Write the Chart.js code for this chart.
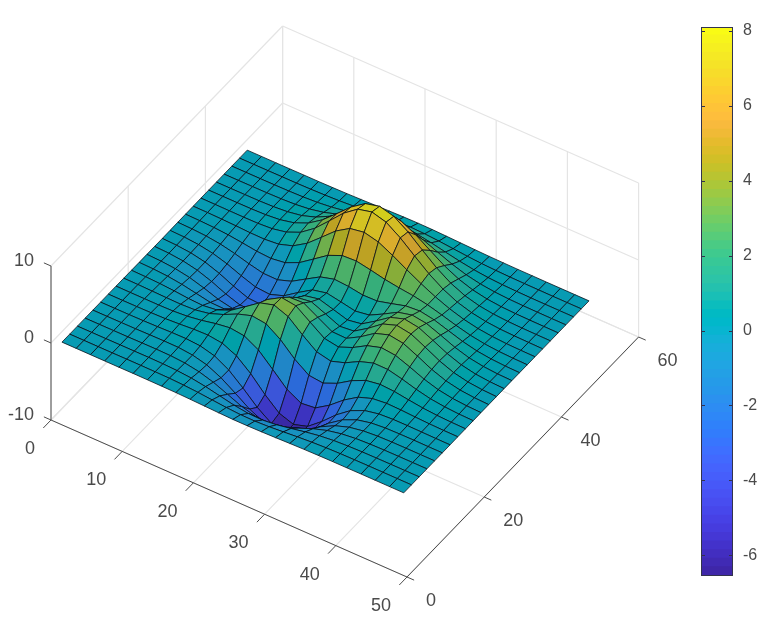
<!DOCTYPE html>
<html>
<head>
<meta charset="utf-8">
<title>peaks surface</title>
<script src="https://cdn.jsdelivr.net/npm/chart.js@4/dist/chart.umd.min.js"></script>
<style>
  html, body { margin: 0; padding: 0; background: #fff; }
  #wrap { position: relative; width: 762px; height: 620px; overflow: hidden; }
  canvas { position: absolute; top: 0; }
  #surface { left: 0; }
  #colorbar { left: 690px; }
</style>
</head>
<body>
<div id="wrap">
  <canvas id="surface" width="762" height="620"></canvas>
  <canvas id="colorbar" width="72" height="620"></canvas>
</div>
<script>
// grid positions of the mesh, along both floor axes
const gridX = [1, 3, 5, 7, 9, 11, 13, 15, 17, 19, 21, 23, 25, 27, 29, 31, 33, 35, 37, 39, 41, 43, 45, 47, 49];
const gridY = [1, 3, 5, 7, 9, 11, 13, 15, 17, 19, 21, 23, 25, 27, 29, 31, 33, 35, 37, 39, 41, 43, 45, 47, 49];

// surface height, one row per gridY value
const surfaceZ = [
  [0, 0, 0, 0, 0, 0.01, 0, -0.01, -0.03, -0.08, -0.14, -0.2, -0.25, -0.25, -0.22, -0.17, -0.11, -0.06, -0.03, -0.01, -0.01, 0, 0, 0, 0],
  [0, 0, 0, 0, 0.01, 0.01, 0, -0.02, -0.1, -0.22, -0.39, -0.56, -0.68, -0.7, -0.61, -0.46, -0.3, -0.17, -0.08, -0.03, -0.01, 0, 0, 0, 0],
  [0, 0, 0, 0.01, 0.01, 0.02, 0, -0.07, -0.23, -0.52, -0.91, -1.3, -1.56, -1.6, -1.4, -1.06, -0.69, -0.38, -0.18, -0.08, -0.03, -0.01, 0, 0, 0],
  [0, 0, 0.01, 0.01, 0.03, 0.04, 0.01, -0.12, -0.44, -0.99, -1.74, -2.51, -3.02, -3.1, -2.72, -2.05, -1.32, -0.73, -0.35, -0.14, -0.05, -0.01, 0, 0, 0],
  [0, 0, 0.01, 0.02, 0.05, 0.07, 0.05, -0.13, -0.59, -1.45, -2.64, -3.88, -4.76, -4.93, -4.35, -3.27, -2.1, -1.15, -0.53, -0.2, -0.06, -0.01, 0, 0, 0],
  [0, 0, 0.01, 0.03, 0.07, 0.13, 0.15, 0.02, -0.46, -1.48, -3.01, -4.7, -5.98, -6.33, -5.64, -4.24, -2.69, -1.42, -0.61, -0.2, -0.04, 0, 0.01, 0, 0],
  [0, 0, 0.01, 0.03, 0.08, 0.19, 0.33, 0.39, 0.15, -0.68, -2.18, -4.07, -5.68, -6.32, -5.76, -4.31, -2.63, -1.27, -0.44, -0.07, 0.04, 0.05, 0.03, 0.01, 0],
  [0, -0.01, -0.01, -0.01, 0.03, 0.17, 0.45, 0.84, 1.11, 0.88, -0.14, -1.85, -3.61, -4.61, -4.4, -3.23, -1.74, -0.56, 0.08, 0.27, 0.23, 0.13, 0.06, 0.02, 0.01],
  [-0.01, -0.02, -0.06, -0.1, -0.13, -0.04, 0.3, 0.98, 1.86, 2.45, 2.22, 0.99, -0.73, -2.02, -2.22, -1.43, -0.27, 0.58, 0.88, 0.77, 0.5, 0.26, 0.11, 0.04, 0.01],
  [-0.02, -0.05, -0.12, -0.25, -0.42, -0.51, -0.28, 0.5, 1.78, 3.09, 3.63, 2.94, 1.4, 0, -0.41, 0.2, 1.18, 1.79, 1.78, 1.35, 0.82, 0.41, 0.18, 0.06, 0.02],
  [-0.03, -0.08, -0.2, -0.44, -0.8, -1.16, -1.21, -0.6, 0.8, 2.49, 3.55, 3.3, 2, 0.7, 0.39, 1.14, 2.2, 2.76, 2.56, 1.88, 1.12, 0.56, 0.24, 0.09, 0.03],
  [-0.03, -0.1, -0.27, -0.6, -1.14, -1.78, -2.16, -1.84, -0.56, 1.23, 2.56, 2.63, 1.58, 0.53, 0.48, 1.5, 2.76, 3.37, 3.09, 2.25, 1.34, 0.67, 0.28, 0.1, 0.03],
  [-0.04, -0.11, -0.3, -0.69, -1.33, -2.14, -2.77, -2.71, -1.65, 0.06, 1.48, 1.75, 0.98, 0.19, 0.38, 1.57, 2.94, 3.58, 3.27, 2.37, 1.41, 0.7, 0.3, 0.11, 0.03],
  [-0.04, -0.11, -0.29, -0.67, -1.32, -2.16, -2.87, -2.98, -2.15, -0.65, 0.68, 1.06, 0.52, -0.03, 0.28, 1.47, 2.76, 3.36, 3.06, 2.22, 1.32, 0.66, 0.28, 0.1, 0.03],
  [-0.03, -0.09, -0.25, -0.57, -1.12, -1.85, -2.49, -2.64, -2, -0.76, 0.39, 0.8, 0.46, 0.09, 0.38, 1.34, 2.38, 2.83, 2.56, 1.85, 1.09, 0.54, 0.23, 0.08, 0.03],
  [-0.02, -0.07, -0.18, -0.42, -0.82, -1.33, -1.76, -1.78, -1.16, -0.05, 1.04, 1.55, 1.42, 1.12, 1.17, 1.65, 2.17, 2.32, 1.99, 1.4, 0.82, 0.4, 0.17, 0.06, 0.02],
  [-0.01, -0.04, -0.11, -0.25, -0.48, -0.74, -0.86, -0.6, 0.23, 1.51, 2.8, 3.59, 3.69, 3.34, 2.94, 2.66, 2.44, 2.08, 1.58, 1.04, 0.58, 0.28, 0.11, 0.04, 0.01],
  [-0.01, -0.02, -0.06, -0.12, -0.2, -0.22, -0.05, 0.55, 1.7, 3.29, 4.92, 6.07, 6.39, 5.94, 5.02, 3.97, 2.97, 2.09, 1.35, 0.79, 0.41, 0.19, 0.07, 0.03, 0.01],
  [0, -0.01, -0.02, -0.03, -0.01, 0.11, 0.48, 1.27, 2.61, 4.37, 6.19, 7.54, 7.99, 7.48, 6.25, 4.72, 3.25, 2.05, 1.18, 0.62, 0.29, 0.12, 0.05, 0.02, 0],
  [0, 0, 0, 0.01, 0.07, 0.24, 0.65, 1.43, 2.67, 4.29, 5.96, 7.22, 7.68, 7.2, 5.99, 4.45, 2.96, 1.78, 0.96, 0.47, 0.21, 0.08, 0.03, 0.01, 0],
  [0, 0, 0.01, 0.02, 0.08, 0.23, 0.55, 1.16, 2.1, 3.31, 4.56, 5.51, 5.86, 5.5, 4.57, 3.37, 2.21, 1.29, 0.68, 0.32, 0.13, 0.05, 0.02, 0.01, 0],
  [0, 0, 0.01, 0.02, 0.06, 0.15, 0.36, 0.74, 1.32, 2.07, 2.84, 3.43, 3.65, 3.43, 2.84, 2.09, 1.36, 0.79, 0.41, 0.19, 0.08, 0.03, 0.01, 0, 0],
  [0, 0, 0, 0.01, 0.03, 0.08, 0.19, 0.39, 0.69, 1.07, 1.46, 1.77, 1.88, 1.77, 1.46, 1.07, 0.7, 0.4, 0.2, 0.09, 0.04, 0.01, 0, 0, 0],
  [0, 0, 0, 0.01, 0.01, 0.04, 0.09, 0.17, 0.3, 0.47, 0.64, 0.77, 0.82, 0.77, 0.64, 0.47, 0.3, 0.17, 0.09, 0.04, 0.02, 0.01, 0, 0, 0],
  [0, 0, 0, 0, 0.01, 0.01, 0.03, 0.06, 0.11, 0.17, 0.23, 0.28, 0.3, 0.28, 0.23, 0.17, 0.11, 0.06, 0.03, 0.01, 0.01, 0, 0, 0, 0]
];

const xTicks = [0, 10, 20, 30, 40, 50];
const yTicks = [0, 20, 40, 60];
const zTicks = [-10, 0, 10];
const colorbarTicks = [-6, -4, -2, 0, 2, 4, 6, 8];
const zMin = -6.55;
const zMax = 8.1;

// parula, 64 levels
const parula = [
  [0.2422,0.1504,0.6603],[0.2504,0.1650,0.7076],[0.2578,0.1818,0.7511],[0.2647,0.1978,0.7952],
  [0.2706,0.2147,0.8364],[0.2751,0.2342,0.8710],[0.2783,0.2559,0.8991],[0.2803,0.2782,0.9221],
  [0.2813,0.3006,0.9414],[0.2810,0.3228,0.9579],[0.2795,0.3447,0.9717],[0.2760,0.3667,0.9829],
  [0.2699,0.3892,0.9906],[0.2602,0.4123,0.9952],[0.2440,0.4358,0.9988],[0.2206,0.4603,0.9973],
  [0.1963,0.4847,0.9892],[0.1834,0.5074,0.9798],[0.1786,0.5289,0.9682],[0.1764,0.5499,0.9520],
  [0.1687,0.5703,0.9359],[0.1540,0.5902,0.9218],[0.1460,0.6091,0.9079],[0.1380,0.6276,0.8973],
  [0.1248,0.6459,0.8883],[0.1113,0.6635,0.8763],[0.0952,0.6798,0.8598],[0.0689,0.6948,0.8394],
  [0.0297,0.7082,0.8163],[0.0036,0.7203,0.7917],[0.0067,0.7312,0.7660],[0.0433,0.7411,0.7394],
  [0.0964,0.7500,0.7120],[0.1408,0.7584,0.6842],[0.1717,0.7670,0.6554],[0.1938,0.7758,0.6251],
  [0.2161,0.7843,0.5923],[0.2470,0.7918,0.5567],[0.2906,0.7973,0.5188],[0.3406,0.8008,0.4789],
  [0.3909,0.8029,0.4354],[0.4456,0.8024,0.3909],[0.5044,0.7993,0.3480],[0.5616,0.7942,0.3045],
  [0.6174,0.7876,0.2612],[0.6720,0.7793,0.2227],[0.7242,0.7698,0.1910],[0.7738,0.7598,0.1646],
  [0.8203,0.7498,0.1535],[0.8634,0.7406,0.1596],[0.9035,0.7330,0.1774],[0.9393,0.7288,0.2100],
  [0.9728,0.7298,0.2394],[0.9956,0.7434,0.2371],[0.9970,0.7659,0.2199],[0.9952,0.7893,0.2028],
  [0.9892,0.8136,0.1885],[0.9786,0.8386,0.1766],[0.9676,0.8639,0.1643],[0.9610,0.8890,0.1537],
  [0.9597,0.9135,0.1423],[0.9628,0.9373,0.1265],[0.9691,0.9606,0.1064],[0.9769,0.9839,0.0805]
];

const TEXT_COLOR = '#4a4a4a';
const AXIS_COLOR = '#4d4d4d';
const GRID_COLOR = '#e4e4e4';
const EDGE_COLOR = 'rgba(5, 10, 20, 0.85)';
const FACE_SHADE = 0.86; // the mesh here is coarser, so faces go darker to keep the overall tone

function toCss(c, k = 1) {
  return `rgb(${Math.round(c[0] * 255 * k)}, ${Math.round(c[1] * 255 * k)}, ${Math.round(c[2] * 255 * k)})`;
}

function colorFor(z) {
  const i = Math.floor((z - zMin) / (zMax - zMin) * parula.length);
  return toCss(parula[Math.max(0, Math.min(parula.length - 1, i))], FACE_SHADE);
}

// fixed view of the 3D box onto the flat x/y scales of the chart
function project(x, y, z) {
  return { x: 51 + 7.12 * x + 3.86 * y, y: 343 + 3.14 * x - 4.0 * y - 7.7 * z };
}

function lineSet(points, color, width) {
  return {
    data: points,
    showLine: true,
    borderColor: color,
    borderWidth: width,
    pointRadius: 0,
    fill: false
  };
}

function segment(a, b, color, width) {
  return lineSet([project(a[0], a[1], a[2]), project(b[0], b[1], b[2])], color, width);
}

// collected back to front, Chart.js paints dataset 0 last so it gets reversed below
const layers = [];

// 1. walls and floor grid
xTicks.forEach(t => {
  layers.push(segment([t, 0, -10], [t, 60, -10], GRID_COLOR, 1.2));
  layers.push(segment([t, 60, -10], [t, 60, 10], GRID_COLOR, 1.2));
});
yTicks.forEach(t => {
  layers.push(segment([0, t, -10], [50, t, -10], GRID_COLOR, 1.2));
  layers.push(segment([0, t, -10], [0, t, 10], GRID_COLOR, 1.2));
});
zTicks.forEach(t => {
  layers.push(segment([0, 0, t], [0, 60, t], GRID_COLOR, 1.2));
  layers.push(segment([0, 60, t], [50, 60, t], GRID_COLOR, 1.2));
});

// 2. axis lines and tick marks
layers.push(segment([0, 0, -10], [50, 0, -10], AXIS_COLOR, 1));
layers.push(segment([50, 0, -10], [50, 60, -10], AXIS_COLOR, 1));
layers.push(segment([0, 0, -10], [0, 0, 10], AXIS_COLOR, 1));
xTicks.forEach(t => layers.push(segment([t, 0, -10], [t, -2, -10], AXIS_COLOR, 1)));
yTicks.forEach(t => layers.push(segment([50, t, -10], [51, t, -10], AXIS_COLOR, 1)));
zTicks.forEach(t => layers.push(segment([0, 0, t], [-1, 0, t], AXIS_COLOR, 1)));

// 3. surface cells, far corner first
for (let r = gridY.length - 2; r >= 0; r--) {
  for (let c = 0; c < gridX.length - 1; c++) {
    const x0 = gridX[c], x1 = gridX[c + 1], y0 = gridY[r], y1 = gridY[r + 1];
    const z00 = surfaceZ[r][c], z01 = surfaceZ[r][c + 1], z10 = surfaceZ[r + 1][c], z11 = surfaceZ[r + 1][c + 1];
    const cell = lineSet([
      project(x0, y0, z00), project(x1, y0, z01), project(x1, y1, z11), project(x0, y1, z10), project(x0, y0, z00)
    ], EDGE_COLOR, 0.9);
    cell.fill = 'shape';
    cell.backgroundColor = colorFor((z00 + z01 + z10 + z11) / 4);
    layers.push(cell);
  }
}
layers.reverse();

const tickLabels = {
  id: 'tickLabels',
  afterDraw(chart) {
    const { ctx, scales } = chart;
    const put = (p, text, align, dx, dy) => {
      ctx.textAlign = align;
      ctx.fillText(text, scales.x.getPixelForValue(p.x) + dx, scales.y.getPixelForValue(p.y) + dy);
    };
    ctx.save();
    ctx.font = '18px "Liberation Sans", Arial, sans-serif';
    ctx.fillStyle = TEXT_COLOR;
    ctx.textBaseline = 'middle';
    xTicks.forEach(t => put(project(t, 0, -10), String(t), 'right', -16, 29));
    yTicks.forEach(t => put(project(50, t, -10), String(t), 'left', 19, 24));
    zTicks.forEach(t => put(project(0, 0, t), String(t), 'right', -17, -5));
    ctx.restore();
  }
};

new Chart(document.getElementById('surface'), {
  type: 'scatter',
  data: { datasets: layers },
  options: {
    responsive: false,
    animation: false,
    events: [],
    layout: { padding: 0 },
    plugins: { legend: { display: false }, tooltip: { enabled: false } },
    scales: {
      x: { type: 'linear', display: false, min: 0, max: 762 },
      y: { type: 'linear', display: false, min: 0, max: 620, reverse: true }
    }
  },
  plugins: [tickLabels]
});

// colorbar frame and inner tick marks
const colorbarFrame = {
  id: 'colorbarFrame',
  afterDraw(chart) {
    const { ctx, chartArea: a, scales } = chart;
    ctx.save();
    ctx.strokeStyle = '#33334d';
    ctx.lineWidth = 1;
    ctx.strokeRect(a.left + 0.5, a.top + 0.5, a.right - a.left - 1, a.bottom - a.top - 1);
    colorbarTicks.forEach(v => {
      const y = Math.round(scales.y.getPixelForValue(v)) + 0.5;
      ctx.beginPath();
      ctx.moveTo(a.right - 4, y);
      ctx.lineTo(a.right, y);
      ctx.moveTo(a.left, y);
      ctx.lineTo(a.left + 4, y);
      ctx.stroke();
    });
    ctx.restore();
  }
};

const step = (zMax - zMin) / parula.length;
new Chart(document.getElementById('colorbar'), {
  type: 'bar',
  data: {
    labels: ['z'],
    datasets: parula.map((c, i) => ({
      data: [[zMin + i * step, zMin + (i + 1) * step + 0.02]],
      backgroundColor: toCss(c),
      borderWidth: 0,
      grouped: false,
      barPercentage: 1,
      categoryPercentage: 1
    }))
  },
  options: {
    responsive: false,
    animation: false,
    events: [],
    layout: { padding: { top: 27, bottom: 44, left: 11, right: 0 } },
    plugins: { legend: { display: false }, tooltip: { enabled: false } },
    scales: {
      x: { display: false, stacked: true },
      y: {
        position: 'right',
        min: zMin,
        max: zMax,
        afterFit: s => { s.width = 29; },
        afterBuildTicks: s => { s.ticks = colorbarTicks.map(v => ({ value: v })); },
        grid: { display: false, drawTicks: false },
        border: { display: false },
        ticks: {
          padding: 10,
          color: TEXT_COLOR,
          font: { family: '"Liberation Sans", Arial, sans-serif', size: 16 },
          callback: v => String(v)
        }
      }
    }
  },
  plugins: [colorbarFrame]
});
</script>
</body>
</html>
